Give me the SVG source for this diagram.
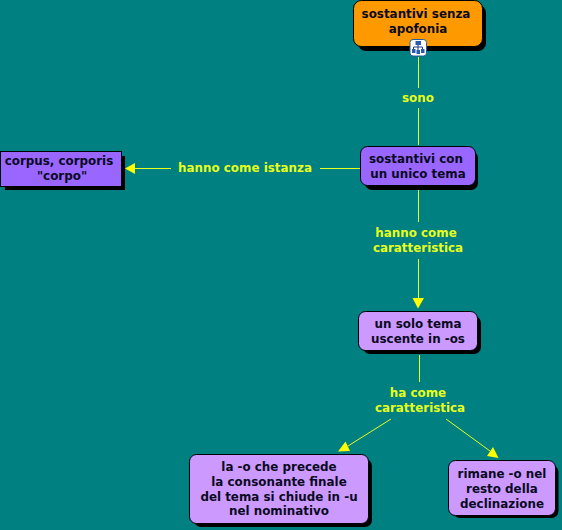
<svg xmlns="http://www.w3.org/2000/svg" width="562" height="530" viewBox="0 0 562 530">
<style>
.t{font-family:"DejaVu Sans",Verdana,sans-serif;font-weight:bold;font-size:11.900px;text-anchor:middle}
.n{fill:#0a0a1e}
.l{fill:#e6ff1e}
.c{stroke:#e6ff1e;stroke-width:1;fill:none}
.a{fill:#ffff00}
.s{fill:#000}
.b{stroke:#000;stroke-width:1}
</style>
<rect width="562" height="530" fill="#008080"/>
<g id="connectors">
<path class="c" d="M418.500 57V88M418.500 108V145"/>
<path class="c" d="M360 168.500H320M171 168.500H135"/>
<path class="a" d="M125 168.500L135 163V174Z"/>
<path class="c" d="M418.500 190V222M418.500 259V298"/>
<path class="a" d="M418 308.500L412.500 298H424Z"/>
<path class="c" d="M419.500 355V382"/>
<path class="c" d="M391 419L348 446"/>
<path class="a" d="M338 451.500L345.500 441.500L350 451Z"/>
<path class="c" d="M446 419L490 451"/>
<path class="a" d="M498.500 458L493 447L487 456Z"/>
</g>
<g id="l1"><text class="t l" x="418" y="102">sono</text></g>
<g id="l2"><text class="t l" x="245" y="172">hanno come istanza</text></g>
<g id="l3"><text class="t l" x="416" y="237">hanno come</text><text class="t l" x="418" y="251.500">caratteristica</text></g>
<g id="l4"><text class="t l" x="418" y="397">ha come</text><text class="t l" x="420" y="412">caratteristica</text></g>
<g id="n1">
<rect class="s" x="358" y="5" width="128" height="46" rx="8"/>
<rect class="b" x="353.500" y="0.500" width="129" height="46" rx="8" fill="#ff9900"/>
<text class="t n" x="416" y="18">sostantivi senza</text><text class="t n" x="418" y="33">apofonia</text>
<rect x="410" y="39.500" width="16.500" height="16.500" rx="3" fill="#fff" stroke="#2a5a9a"/>
<path d="M418 43V52M413.500 47H422.500M413.500 47V50M422.500 47V50" stroke="#1a3a8a" fill="none"/>
<rect x="415.500" y="41" width="5.500" height="4" fill="#2a5ab0"/>
<rect x="412" y="49" width="3.500" height="4" fill="#2a5ab0"/>
<rect x="416.500" y="50" width="3.500" height="4" fill="#2a5ab0"/>
<rect x="421" y="49" width="3.500" height="4" fill="#2a5ab0"/>
</g>
<g id="n2">
<rect class="s" x="5" y="156" width="120" height="34"/>
<rect class="b" x="0.500" y="151.500" width="121" height="35" fill="#9966ff"/>
<text class="t n" x="59" y="165">corpus, corporis</text><text class="t n" x="62" y="180">"corpo"</text>
</g>
<g id="n3">
<rect class="s" x="365" y="151" width="113" height="39" rx="7"/>
<rect class="b" x="360.500" y="146.500" width="115" height="39" rx="7" fill="#9966ff"/>
<text class="t n" x="416" y="163">sostantivi con</text><text class="t n" x="418" y="178">un unico tema</text>
</g>
<g id="n4">
<rect class="s" x="363" y="316" width="118" height="38" rx="7"/>
<rect class="b" x="358.500" y="311.500" width="119" height="39" rx="7" fill="#cc99ff"/>
<text class="t n" x="418" y="328">un solo tema</text><text class="t n" x="418" y="343">uscente in -os</text>
</g>
<g id="n5">
<rect class="s" x="194" y="459" width="178" height="68" rx="7"/>
<rect class="b" x="189.500" y="454.500" width="179" height="69" rx="7" fill="#cc99ff"/>
<text class="t n" x="279" y="471">la -o che precede</text><text class="t n" x="279" y="486">la consonante finale</text><text class="t n" x="279" y="500.500">del tema si chiude in -u</text><text class="t n" x="279" y="515">nel nominativo</text>
</g>
<g id="n6">
<rect class="s" x="453" y="465" width="105.500" height="53" rx="7"/>
<rect class="b" x="448.500" y="460.500" width="107" height="55" rx="7" fill="#cc99ff"/>
<text class="t n" x="502" y="478">rimane -o nel</text><text class="t n" x="502" y="493">resto della</text><text class="t n" x="502" y="508">declinazione</text>
</g>
</svg>
